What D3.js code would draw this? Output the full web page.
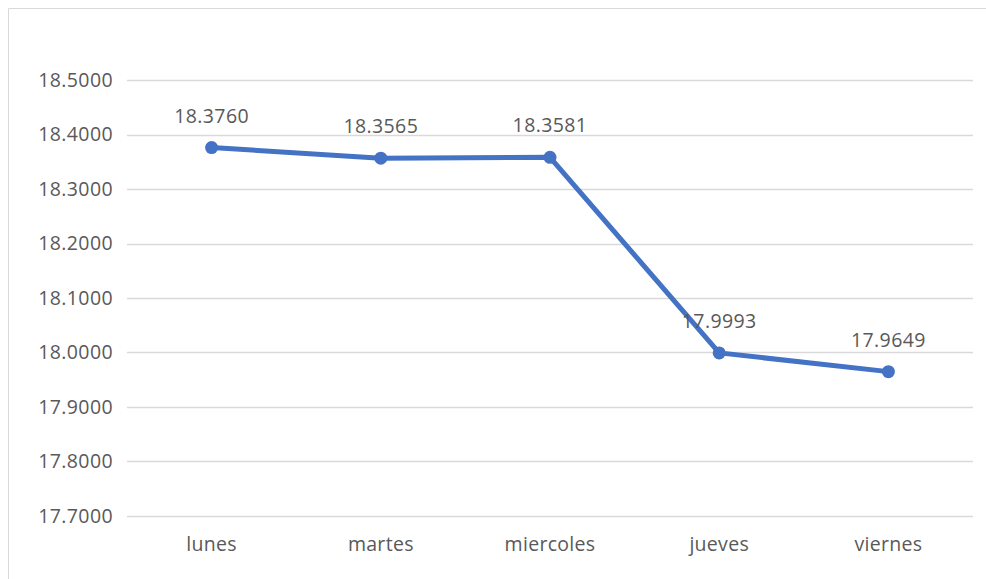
<!DOCTYPE html>
<html>
<head>
<meta charset="utf-8">
<script src="https://cdn.jsdelivr.net/npm/d3@7"></script>
<style>
  html, body { margin: 0; padding: 0; background: #ffffff; }
  svg { display: block; }
  text { font-family: "Open Sans", "Noto Sans", sans-serif; fill: #595959; }
</style>
</head>
<body>
<svg id="chart" width="986" height="579"></svg>
<script>
// data
var vsDays = ["lunes", "martes", "miercoles", "jueves", "viernes"];
var vfValues = [18.3760, 18.3565, 18.3581, 17.9993, 17.9649];
var vfTicks = [17.7, 17.8, 17.9, 18.0, 18.1, 18.2, 18.3, 18.4, 18.5];

var g_colorLine = "#4472C4";
var g_colorGrid = "#d9d9d9";

var nW = 986, nH = 579;
var nLeft = 127, nRight = 973, nTop = 80, nBottom = 516;
var sFontSize = "19.5px";

var svg = d3.select("#chart");

// chart frame (only top and left edges show in the crop)
svg.append("path")
    .attr("d", "M 8.5 " + nH + " L 8.5 8.5 L " + nW + " 8.5")
    .attr("fill", "none")
    .attr("stroke", g_colorGrid)
    .attr("stroke-width", 1);

var x = d3.scaleBand()
    .domain(vsDays)
    .range([nLeft, nRight])
    .padding(0);

var y = d3.scaleLinear()
    .domain([17.7, 18.5])
    .range([nBottom, nTop]);

// gridlines
svg.append("g")
    .selectAll("line")
    .data(vfTicks)
    .enter()
    .append("line")
        .attr("x1", nLeft)
        .attr("x2", nRight)
        .attr("y1", function(d) { return Math.round(y(d)) + 0.5; })
        .attr("y2", function(d) { return Math.round(y(d)) + 0.5; })
        .attr("stroke", g_colorGrid)
        .attr("stroke-width", 1.3);

// y axis labels
var axisY = d3.axisLeft(y)
    .tickValues(vfTicks)
    .tickSize(0)
    .tickPadding(14)
    .tickFormat(d3.format(".4f"));

svg.append("g")
    .attr("transform", "translate(" + nLeft + ",0)")
    .call(axisY)
    .call(function(g) { g.select(".domain").remove(); })
    .selectAll("text")
        .attr("font-family", "'Open Sans', 'Noto Sans', sans-serif")
        .attr("font-size", sFontSize)
        .attr("letter-spacing", "0.4px")
        .attr("fill", "#595959");

// x axis labels
var axisX = d3.axisBottom(x)
    .tickSize(0)
    .tickPadding(21);

svg.append("g")
    .attr("transform", "translate(0," + nBottom + ")")
    .call(axisX)
    .call(function(g) { g.select(".domain").remove(); })
    .selectAll("text")
        .attr("font-family", "'Open Sans', 'Noto Sans', sans-serif")
        .attr("font-size", sFontSize)
        .attr("letter-spacing", "0.3px")
        .attr("fill", "#595959");

function getX(d, i) { return x(vsDays[i]) + x.bandwidth() / 2; }

var line = d3.line()
    .x(getX)
    .y(function(d) { return y(d); });

svg.append("path")
    .datum(vfValues)
    .attr("d", line)
    .attr("fill", "none")
    .attr("stroke", g_colorLine)
    .attr("stroke-width", 5)
    .attr("stroke-linejoin", "round")
    .attr("stroke-linecap", "round");

svg.append("g")
    .selectAll("circle")
    .data(vfValues)
    .enter()
    .append("circle")
        .attr("cx", getX)
        .attr("cy", function(d) { return y(d); })
        .attr("r", 6.5)
        .attr("fill", g_colorLine);

// data labels
svg.append("g")
    .selectAll("text")
    .data(vfValues)
    .enter()
    .append("text")
        .attr("x", getX)
        .attr("y", function(d) { return y(d) - 25; })
        .attr("text-anchor", "middle")
        .attr("font-size", sFontSize)
        .attr("letter-spacing", "0.4px")
        .text(function(d) { return d3.format(".4f")(d); });
</script>
</body>
</html>
